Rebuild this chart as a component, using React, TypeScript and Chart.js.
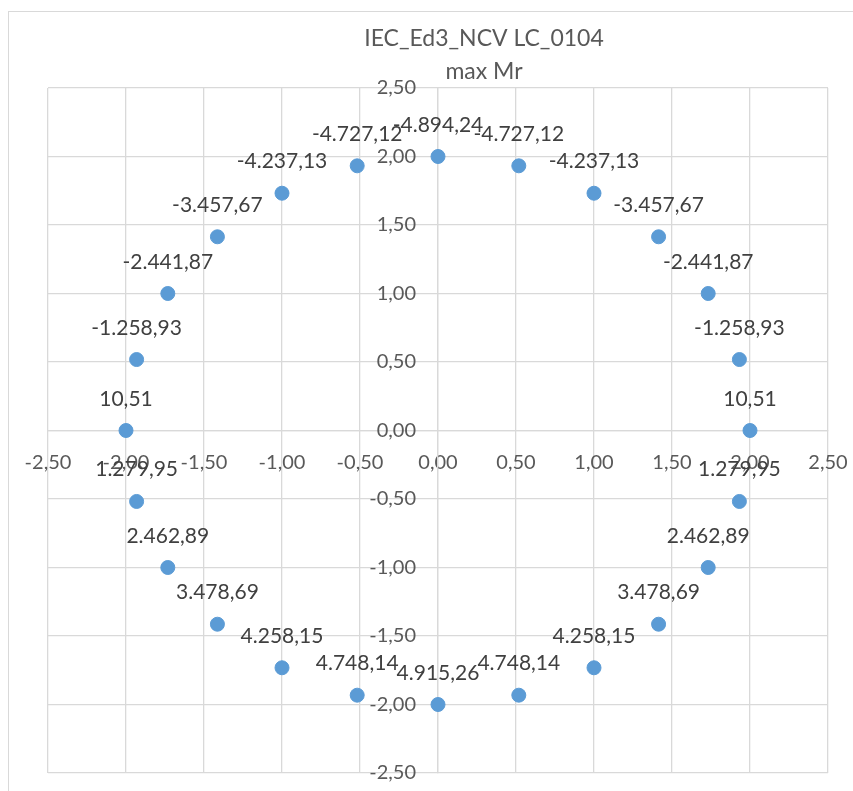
import React, { useEffect, useRef } from 'react';
import { Chart, registerables } from 'chart.js';

Chart.register(...registerables);

const TITLE_LINES = ['IEC_Ed3_NCV LC_0104', 'max Mr'];

const X_VALUES = [
  0, 0.518, 1, 1.414, 1.732, 1.932, 2, 1.932, 1.732, 1.414, 1, 0.518,
  0, -0.518, -1, -1.414, -1.732, -1.932, -2, -1.932, -1.732, -1.414, -1, -0.518,
];
const Y_VALUES = [
  2, 1.932, 1.732, 1.414, 1, 0.518, 0, -0.518, -1, -1.414, -1.732, -1.932,
  -2, -1.932, -1.732, -1.414, -1, -0.518, 0, 0.518, 1, 1.414, 1.732, 1.932,
];
const MR_VALUES = [
  -4894.24, -4727.12, -4237.13, -3457.67, -2441.87, -1258.93, 10.51, 1279.95,
  2462.89, 3478.69, 4258.15, 4748.14, 4915.26, 4748.14, 4258.15, 3478.69,
  2462.89, 1279.95, 10.51, -1258.93, -2441.87, -3457.67, -4237.13, -4727.12,
];

const AXIS_MIN = -2.5;
const AXIS_MAX = 2.5;
const AXIS_STEP = 0.5;

const FONT = 'Lato';
const TICK_COLOR = '#595959';
const LABEL_COLOR = '#404040';
const GRID_COLOR = '#d9d9d9';
const POINT_COLOR = '#5b9bd5';
const TICK_SIZE = 20;
const LABEL_SIZE = 21;

function fmtTick(v: number): string {
  const s = Math.abs(v).toFixed(2).replace('.', ',');
  return (v < -1e-9 ? '-' : '') + s;
}

function fmtMr(v: number): string {
  const neg = v < 0;
  const [i, d] = Math.abs(v).toFixed(2).split('.');
  const ii = i.replace(/\B(?=(\d{3})+(?!\d))/g, '.');
  return (neg ? '-' : '') + ii + ',' + d;
}

// y-axis tick labels, placed left of the centred y axis (Excel "next to axis")
const yTickLabelPlugin = {
  id: 'yTickLabels',
  beforeDatasetsDraw(chart: any) {
    const ctx = chart.ctx;
    const ys = chart.scales.y;
    const xs = chart.scales.x;
    const x0 = xs.getPixelForValue(0);
    ctx.save();
    ctx.font = `${TICK_SIZE}px ${FONT}`;
    ctx.fillStyle = TICK_COLOR;
    ctx.textAlign = 'right';
    ctx.textBaseline = 'middle';
    ys.ticks.forEach((t: any) => {
      ctx.fillText(fmtTick(t.value), x0 - 22, ys.getPixelForValue(t.value));
    });
    ctx.restore();
  },
};

const dataLabelPlugin = {
  id: 'dataLabels',
  afterDatasetsDraw(chart: any) {
    const ctx = chart.ctx;
    const meta = chart.getDatasetMeta(0);
    ctx.save();
    ctx.font = `${LABEL_SIZE}px ${FONT}`;
    ctx.fillStyle = LABEL_COLOR;
    ctx.textAlign = 'center';
    ctx.textBaseline = 'alphabetic';
    meta.data.forEach((el: any, i: number) => {
      ctx.fillText(fmtMr(MR_VALUES[i]), el.x, el.y - 25);
    });
    ctx.restore();
  },
};

export default function App() {
  const ref = useRef<HTMLCanvasElement | null>(null);

  useEffect(() => {
    if (!ref.current) return;
    const chart = new Chart(ref.current, {
      type: 'scatter',
      data: {
        datasets: [
          {
            data: X_VALUES.map((x, i) => ({ x, y: Y_VALUES[i] })),
            backgroundColor: POINT_COLOR,
            borderColor: POINT_COLOR,
            borderWidth: 1,
            pointRadius: 7,
            pointHoverRadius: 7,
          },
        ],
      },
      options: {
        responsive: false,
        animation: false,
        devicePixelRatio: 1,
        layout: { padding: { left: 48, right: 48, top: 0, bottom: 18 } },
        plugins: {
          legend: { display: false },
          tooltip: { enabled: false },
          title: {
            display: true,
            text: TITLE_LINES,
            color: TICK_COLOR,
            font: { family: FONT, size: 23, weight: 'normal', lineHeight: '33px' },
            padding: { top: 22, bottom: 0 },
          },
        },
        scales: {
          x: {
            type: 'linear',
            min: AXIS_MIN,
            max: AXIS_MAX,
            position: { y: 0 },
            ticks: {
              stepSize: AXIS_STEP,
              callback: (v: any) => fmtTick(Number(v)),
              color: TICK_COLOR,
              font: { family: FONT, size: TICK_SIZE },
              padding: 20,
              autoSkip: false,
              maxRotation: 0,
              minRotation: 0,
            },
            grid: { color: GRID_COLOR, lineWidth: 1.3, drawTicks: false },
            border: { color: GRID_COLOR, width: 1.3 },
            afterFit: (s: any) => {
              s.height = 0;
            },
          },
          y: {
            type: 'linear',
            min: AXIS_MIN,
            max: AXIS_MAX,
            position: { x: 0 },
            ticks: {
              stepSize: AXIS_STEP,
              display: false,
              autoSkip: false,
            },
            grid: { color: GRID_COLOR, lineWidth: 1.3, drawTicks: false },
            border: { color: GRID_COLOR, width: 1.3 },
            afterFit: (s: any) => {
              s.width = 0;
            },
          },
          // empty right-hand area of the (cropped) Excel chart object
          r: {
            type: 'linear',
            position: 'right',
            display: true,
            ticks: { display: false },
            grid: { display: false, drawTicks: false },
            border: { display: false },
            afterFit: (s: any) => {
              s.width = 92;
            },
          },
        },
      } as any,
      plugins: [yTickLabelPlugin, dataLabelPlugin],
    });
    return () => chart.destroy();
  }, []);

  return (
    <div
      style={{
        position: 'fixed',
        left: 0,
        top: 0,
        width: 853,
        height: 791,
        overflow: 'hidden',
        background: '#ffffff',
      }}
    >
      <div
        style={{
          position: 'absolute',
          left: 8,
          top: 11,
          width: 1000,
          height: 1000,
          borderLeft: `1px solid ${GRID_COLOR}`,
          borderTop: `1px solid ${GRID_COLOR}`,
        }}
      />
      <canvas
        ref={ref}
        width={968}
        height={791}
        style={{ position: 'absolute', left: 0, top: 0, width: 968, height: 791 }}
      />
    </div>
  );
}
